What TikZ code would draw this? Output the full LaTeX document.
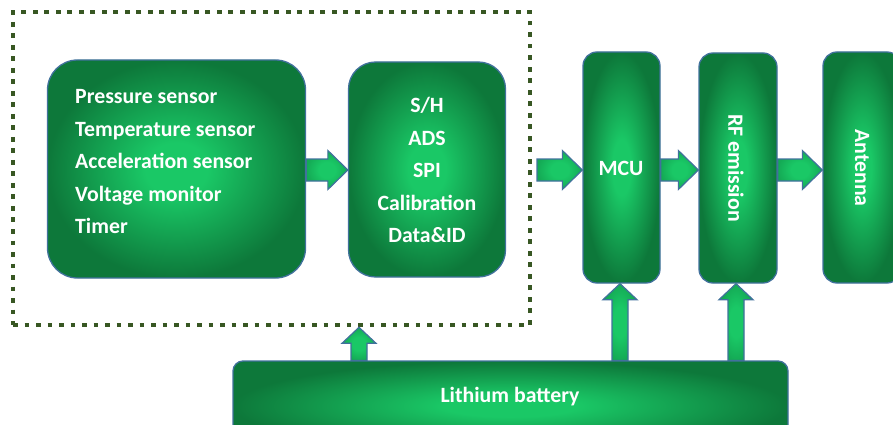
\documentclass[tikz,border=0pt]{standalone}
\usepackage{fontspec}
\setmainfont{Carlito}
\usetikzlibrary{calc}
\definecolor{gin}{RGB}{26,200,102}
\definecolor{gout}{RGB}{13,120,58}
\definecolor{amid}{RGB}{20,170,85}
\definecolor{bord}{RGB}{65,113,156}
\definecolor{olivegreen}{RGB}{56,87,35}
\pgfdeclareradialshading{gbox}{\pgfpoint{0bp}{0bp}}{color(0bp)=(gin); color(6bp)=(gin); color(25bp)=(gout); color(50bp)=(gout)}
\pgfdeclareradialshading{garrow}{\pgfpoint{0bp}{0bp}}{color(0bp)=(gin); color(10bp)=(gin); color(25bp)=(amid); color(50bp)=(amid)}
\tikzset{
  gbox/.style={draw=bord, line width=1.3pt, shade, shading=gbox, inner sep=0pt, anchor=center},
  arr/.style={draw=bord, line width=1.2pt, shade, shading=garrow},
  wtxt/.style={text=white, font=\bfseries\fontsize{21.8}{32.5}\selectfont, inner sep=0pt},
  dotframe/.style={draw=olivegreen, line width=4.6pt, dash pattern=on 4.6pt off 6.9pt, inner sep=0pt}
}
\newcommand\harrow[2]{%
  \draw[arr] ($(#1)+(0,-11)$) -- ($(#2)+(-20,-11)$) -- ($(#2)+(-20,-19.5)$) -- (#2)
     -- ($(#2)+(-20,19.5)$) -- ($(#2)+(-20,11)$) -- ($(#1)+(0,11)$) -- cycle;}
\newcommand\varrow[2]{%
  \draw[arr] ($(#1)+(-8,0)$) -- ($(#2)+(-8,16)$) -- ($(#2)+(-17,16)$) -- (#2)
     -- ($(#2)+(17,16)$) -- ($(#2)+(8,16)$) -- ($(#1)+(8,0)$) -- cycle;}
\begin{document}
\begin{tikzpicture}[x=1pt, y=-1pt]
\useasboundingbox (0,0) rectangle (893,425);
\clip (0,0) rectangle (893,425);
% dotted frame
\node[dotframe, minimum width=517pt, minimum height=313pt] (frame) at (271.5,168.5) {};
% boxes
\node[gbox, rounded corners=30pt, minimum width=258pt, minimum height=218pt] (sensor) at (176.5,169) {};
\node[wtxt, anchor=west, align=left] (sensortext) at (75,162) {Pressure sensor\\Temperature sensor\\Acceleration sensor\\Voltage monitor\\Timer};
\node[gbox, rounded corners=27pt, minimum width=157pt, minimum height=215pt] (sh) at (427,169.5) {};
\node[wtxt, align=center] (shtext) at (427,170) {S/H\\ADS\\SPI\\Calibration\\Data\&ID};
\node[gbox, rounded corners=14pt, minimum width=77pt, minimum height=231pt] (mcu) at (621.5,167.5) {};
\node[wtxt] (mcutext) at (621,168) {MCU};
\node[gbox, rounded corners=14pt, minimum width=78pt, minimum height=230pt] (rf) at (738,168) {};
\node[wtxt, rotate=-90] (rftext) at (736,168) {RF emission};
\node[gbox, rounded corners=14pt, minimum width=78pt, minimum height=231pt] (ant) at (862,167.5) {};
\node[wtxt, rotate=-90] (anttext) at (862,168) {Antenna};
\node[gbox, rounded corners=10pt, minimum width=555pt, minimum height=90pt] (battery) at (510.5,406) {};
\node[wtxt] (battext) at (510,397) {Lithium battery};
% horizontal arrows
\coordinate (ay) at (0,170);
\harrow{sensor.east |- ay}{sh.west |- ay}
\harrow{537,170}{mcu.west |- ay}
\harrow{mcu.east |- ay}{rf.west |- ay}
\harrow{rf.east |- ay}{ant.west |- ay}
% vertical arrows
\coordinate (vx) at (359,0);
\varrow{battery.north -| vx}{frame.south -| vx}
\coordinate (mx) at (620,0);
\varrow{battery.north -| mx}{mcu.south -| mx}
\coordinate (rx) at (736,0);
\varrow{battery.north -| rx}{rf.south -| rx}
\end{tikzpicture}
\end{document}
